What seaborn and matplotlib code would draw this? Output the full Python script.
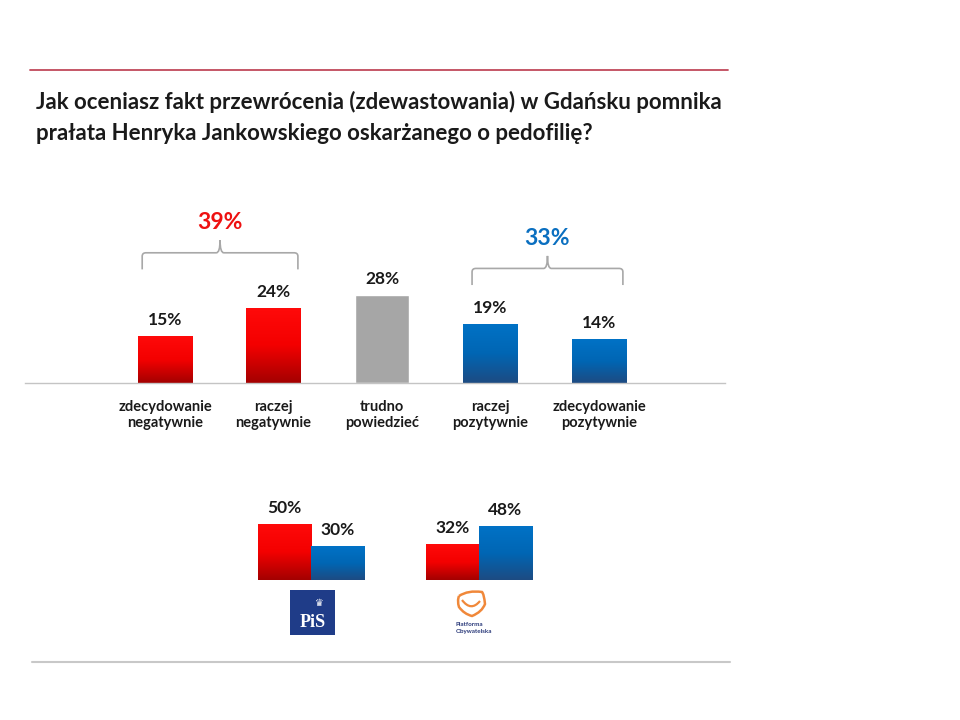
import numpy as np
import pandas as pd
import matplotlib
matplotlib.use("Agg")
import matplotlib.pyplot as plt
import seaborn as sns
from matplotlib.colors import LinearSegmentedColormap
from matplotlib.patches import Rectangle, PathPatch
from matplotlib.path import Path

# ---------------- data ----------------
categories = ["zdecydowanie\nnegatywnie", "raczej\nnegatywnie", "trudno\npowiedzieć",
              "raczej\npozytywnie", "zdecydowanie\npozytywnie"]
values = [15, 24, 28, 19, 14]
kinds = ["neg", "neg", "neu", "pos", "pos"]
neg_group = [0, 1]
pos_group = [3, 4]

parties = ["PiS", "PO"]
opinions = ["negatywnie", "pozytywnie"]
party_neg = [50, 32]
party_pos = [30, 48]

title_lines = ["Jak oceniasz fakt przewrócenia (zdewastowania) w Gdańsku pomnika",
               "prałata Henryka Jankowskiego oskarżanego o pedofilię?"]

# ---------------- style ----------------
sns.set_theme(style="white")
plt.rcParams["font.family"] = ["Lato", "DejaVu Sans"]

RED_FLAT, BLUE_FLAT, GRAY_FLAT = "#f00000", "#0068b8", "#a6a6a6"
RED_GRAD = ["#ff0a0a", "#f40000", "#a30000"]
BLUE_GRAD = ["#0072c6", "#0066b4", "#1d4b82"]
flat = {"neg": RED_FLAT, "pos": BLUE_FLAT, "neu": GRAY_FLAT}
grad = {"neg": RED_GRAD, "pos": BLUE_GRAD, "neu": None}
TXT = "#1a1a1a"


def shade(ax, patch, colors):
    if colors is None:
        return
    x, y = patch.get_x(), patch.get_y()
    w, h = patch.get_width(), patch.get_height()
    cmap = LinearSegmentedColormap.from_list("g", colors)
    g = np.linspace(0, 1, 256).reshape(-1, 1)
    im = ax.imshow(g, extent=(x, x + w, y, y + h), origin="upper", cmap=cmap,
                   aspect="auto", zorder=patch.get_zorder() + 0.1, interpolation="bilinear")
    im.set_clip_path(patch)


fig = plt.figure(figsize=(9.6, 7.2), dpi=100)
W, H = 960.0, 720.0

# ---------------- main chart ----------------
PX_PER_PCT = 3.13
base_y, top_y = 383, 200
ax = fig.add_axes([25 / W, (H - base_y) / H, 700 / W, (base_y - top_y) / H])
ax.patch.set_alpha(0)
df = pd.DataFrame({"cat": categories, "val": values, "kind": kinds})
sns.barplot(data=df, x="cat", y="val", hue="cat",
            palette=[flat[k] for k in kinds], width=0.5, saturation=1,
            legend=False, ax=ax)
xlim = (-1.290, 5.161)
ylim = (0, (base_y - top_y) / PX_PER_PCT)
for cont, k in zip(ax.containers, kinds):
    for p in cont.patches:
        shade(ax, p, grad[k])
ax.set_xlim(*xlim)
ax.set_ylim(*ylim)

off = 16 / PX_PER_PCT
for i, v in enumerate(values):
    ax.text(i, v + off, f"{v}%", ha="center", va="center", fontsize=12.5,
            fontweight="bold", color=TXT)

ax.set_xticks(range(len(categories)))
ax.set_xticklabels(categories, fontsize=10.5, fontweight="bold", color=TXT)
for lbl in ax.get_xticklabels():
    lbl.set_linespacing(1.2)
ax.tick_params(axis="x", length=0, pad=12)
ax.set_yticks([])
ax.set_xlabel("")
ax.set_ylabel("")
for s in ["top", "left", "right"]:
    ax.spines[s].set_visible(False)
ax.spines["bottom"].set_color("#c4c4c4")
ax.spines["bottom"].set_linewidth(1.0)


def bracket(ax, idx, color_txt, inset_l, inset_r):
    x0 = min(idx) - 0.25 + inset_l
    x1 = max(idx) + 0.25 - inset_r
    xm = (x0 + x1) / 2
    top = max(values[i] for i in idx)
    y_end = top + 12.3
    y_h = y_end + 5.3
    y_pk = y_h + 4.0
    rx, ry = 0.035, 1.1
    verts = [(x0, y_end), (x0, y_h - ry), (x0, y_h), (x0 + rx, y_h),
             (xm - rx, y_h), (xm, y_h), (xm, y_pk),
             (xm, y_h), (xm + rx, y_h),
             (x1 - rx, y_h), (x1, y_h), (x1, y_h - ry), (x1, y_end)]
    codes = [Path.MOVETO, Path.LINETO, Path.CURVE3, Path.CURVE3,
             Path.LINETO, Path.CURVE3, Path.CURVE3,
             Path.CURVE3, Path.CURVE3,
             Path.LINETO, Path.CURVE3, Path.CURVE3, Path.LINETO]
    ax.add_patch(PathPatch(Path(verts, codes), fill=False, edgecolor="#a8a8a8",
                           lw=1.2, clip_on=False))
    total = sum(values[i] for i in idx)
    ax.text(xm, y_h + 9.6, f"{total}%", ha="center", va="center", fontsize=16.5,
            fontweight="bold", color=color_txt, clip_on=False)


bracket(ax, neg_group, "#ee1111", 0.04, 0.025)
bracket(ax, pos_group, "#0a6fc0", 0.08, 0.03)

# ---------------- party chart ----------------
PX2 = 1.12
b2, t2 = 580, 480
ax2 = fig.add_axes([200 / W, (H - b2) / H, 400 / W, (b2 - t2) / H])
ax2.patch.set_alpha(0)
df2 = pd.DataFrame({
    "party": parties * 2,
    "ocena": [opinions[0]] * len(parties) + [opinions[1]] * len(parties),
    "val": party_neg + party_pos,
})
sns.barplot(data=df2, x="party", y="val", hue="ocena", hue_order=opinions,
            palette=[RED_FLAT, BLUE_FLAT], width=0.631, saturation=1,
            legend=False, ax=ax2)
for cont, colors in zip(ax2.containers, [RED_GRAD, BLUE_GRAD]):
    for p in cont.patches:
        shade(ax2, p, colors)
        h = p.get_height()
        ax2.text(p.get_x() + p.get_width() / 2, h + 16 / PX2, f"{int(round(h))}%",
                 ha="center", va="center", fontsize=12.5, fontweight="bold", color=TXT)
ax2.set_xlim(-0.661, 1.720)
ax2.set_ylim(0, (b2 - t2) / PX2)
ax2.axis("off")

# ---------------- decorations (pixel overlay) ----------------
ov = fig.add_axes([0, 0, 1, 1])
ov.set_xlim(0, W)
ov.set_ylim(H, 0)
ov.axis("off")
ov.plot([30, 728], [70, 70], color="#c0495a", lw=1.3)
ov.plot([32, 730], [662, 662], color="#c8c8c8", lw=1.5)
ov.text(36, 109, title_lines[0], ha="left", va="baseline", fontsize=16,
        fontweight="bold", color=TXT)
ov.text(36, 140, title_lines[1], ha="left", va="baseline", fontsize=16,
        fontweight="bold", color=TXT)

# PiS logo
ov.add_patch(Rectangle((290, 590), 45, 45, facecolor="#1f3c88", edgecolor="none"))
ov.text(312.5, 627, "PiS", ha="center", va="baseline", fontsize=13, fontweight="bold",
        color="white", family=["Liberation Serif", "DejaVu Serif"])
ov.text(319, 603, "♛", ha="center", va="center", fontsize=7, color="white",
        family=["DejaVu Sans"])

# PO logo
po_verts = [(459, 596), (468, 590), (482, 592), (484, 594), (485, 604), (482, 612),
            (472, 616), (464, 614), (459, 607), (457, 601), (459, 596)]
po_codes = [Path.MOVETO] + [Path.CURVE3, Path.CURVE3] * 5
ov.add_patch(PathPatch(Path(po_verts, po_codes), fill=False, edgecolor="#f0883a", lw=1.8))
smile = [(462, 600), (471, 612), (480, 601)]
ov.add_patch(PathPatch(Path(smile, [Path.MOVETO, Path.CURVE3, Path.CURVE3]),
                       fill=False, edgecolor="#f0883a", lw=1.6))
ov.text(456, 626, "Platforma", ha="left", va="baseline", fontsize=4.5,
        fontweight="bold", color="#2b3a7a")
ov.text(456, 633, "Obywatelska", ha="left", va="baseline", fontsize=4.5,
        fontweight="bold", color="#2b3a7a")

fig.savefig("out.png", dpi=100)
